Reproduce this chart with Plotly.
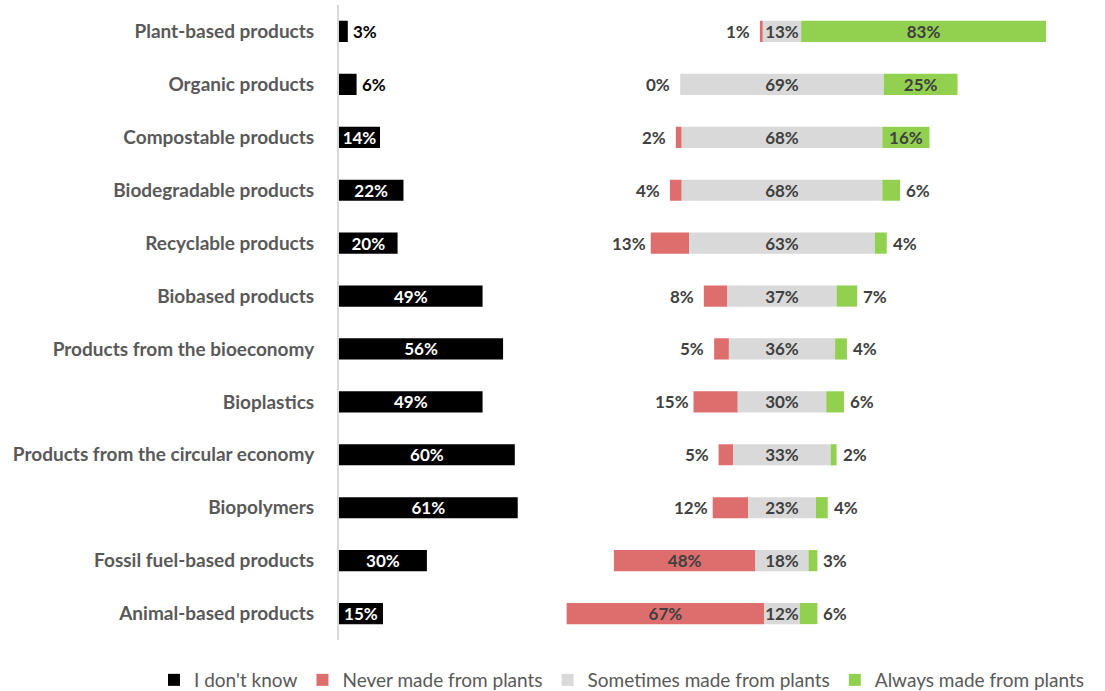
import plotly.graph_objects as go

# Survey items, top to bottom
categories = [
    "Plant-based products",
    "Organic products",
    "Compostable products",
    "Biodegradable products",
    "Recyclable products",
    "Biobased products",
    "Products from the bioeconomy",
    "Bioplastics",
    "Products from the circular economy",
    "Biopolymers",
    "Fossil fuel-based products",
    "Animal-based products",
]

# Shares of respondents (%)
dont_know = [3, 6, 14, 22, 20, 49, 56, 49, 60, 61, 30, 15]
never = [1, 0, 2, 4, 13, 8, 5, 15, 5, 12, 48, 67]
sometimes = [13, 69, 68, 68, 63, 37, 36, 30, 33, 23, 18, 12]
always = [83, 25, 16, 6, 4, 7, 4, 6, 2, 4, 3, 6]

series_names = ["I don't know", "Never made from plants",
                "Sometimes made from plants", "Always made from plants"]

C_BLACK = "#000000"
C_RED = "#DE6E6E"
C_GREY = "#D9D9D9"
C_GREEN = "#92D050"
C_TEXT = "#404040"
C_CAT = "#595959"
FONT = "Lato"

W, H = 1105, 691
M_T, M_B = 5, 51
AXIS_PX = 339          # horizontal position of the category axis line
SPLIT_PX = 553.5       # where the diverging panel begins
CENTER_PX = 782        # middle of the "Sometimes" segment

# Horizontal scales (pixels per percentage point) for the two panels
left_ppp = 2.93
right_ppp = 2.95

left_domain = [AXIS_PX / W, SPLIT_PX / W]
right_domain = [SPLIT_PX / W, 1]
left_range = [0, (SPLIT_PX - AXIS_PX) / left_ppp]
right_range = [-(CENTER_PX - SPLIT_PX) / right_ppp, (W - CENTER_PX) / right_ppp]

BAR_W = 0.4
label_font = dict(family=FONT, size=17, color=C_TEXT, weight="bold")

fig = go.Figure()

# Left panel: "I don't know"
dk_inside = [v >= 10 for v in dont_know]
fig.add_trace(go.Bar(
    y=categories, x=dont_know, orientation="h", width=BAR_W,
    marker=dict(color=C_BLACK, line=dict(width=0)),
    name=series_names[0], xaxis="x", yaxis="y",
    text=[f"{v}%" if ins else "" for v, ins in zip(dont_know, dk_inside)],
    textposition="inside", insidetextanchor="middle", textangle=0,
    constraintext="none",
    insidetextfont=dict(family=FONT, size=17, color="white", weight="bold"),
    hoverinfo="skip",
))

# Right panel: diverging bars centred on the middle of "Sometimes"
never_inside = [v >= 30 for v in never]
fig.add_trace(go.Bar(
    y=categories, x=[-v for v in never], base=[-s / 2 for s in sometimes],
    orientation="h", width=BAR_W,
    marker=dict(color=C_RED, line=dict(width=0)),
    name=series_names[1], xaxis="x2", yaxis="y",
    text=[f"{v}%" if ins else "" for v, ins in zip(never, never_inside)],
    textposition="inside", insidetextanchor="middle", textangle=0,
    constraintext="none", insidetextfont=label_font,
    hoverinfo="skip",
))
fig.add_trace(go.Bar(
    y=categories, x=sometimes, base=[-s / 2 for s in sometimes],
    orientation="h", width=BAR_W,
    marker=dict(color=C_GREY, line=dict(width=0)),
    name=series_names[2], xaxis="x2", yaxis="y",
    text=[f"{v}%" for v in sometimes],
    textposition="inside", insidetextanchor="middle", textangle=0,
    constraintext="none", insidetextfont=label_font,
    hoverinfo="skip",
))
always_inside = [v >= 10 for v in always]
fig.add_trace(go.Bar(
    y=categories, x=always, base=[s / 2 for s in sometimes],
    orientation="h", width=BAR_W,
    marker=dict(color=C_GREEN, line=dict(width=0)),
    name=series_names[3], xaxis="x2", yaxis="y",
    text=[f"{v}%" if ins else "" for v, ins in zip(always, always_inside)],
    textposition="inside", insidetextanchor="middle", textangle=0,
    constraintext="none", insidetextfont=label_font,
    hoverinfo="skip",
))

# Labels placed outside the short bars
annotations = []
for cat, v, ins in zip(categories, dont_know, dk_inside):
    if not ins:
        annotations.append(dict(x=v, y=cat, xref="x", yref="y", text=f"{v}%",
                                showarrow=False, xanchor="center", xshift=17,
                                font=dict(family=FONT, size=17, color="#000000",
                                          weight="bold")))
for cat, n, s, ins in zip(categories, never, sometimes, never_inside):
    if not ins:
        annotations.append(dict(x=-(s / 2 + n), y=cat, xref="x2", yref="y",
                                text=f"{n}%", showarrow=False, xanchor="center",
                                xshift=-22, font=label_font))
for cat, a, s, ins in zip(categories, always, sometimes, always_inside):
    if not ins:
        annotations.append(dict(x=s / 2 + a, y=cat, xref="x2", yref="y",
                                text=f"{a}%", showarrow=False, xanchor="center",
                                xshift=18, font=label_font))

fig.update_layout(
    width=W, height=H,
    margin=dict(l=0, r=0, t=M_T, b=M_B),
    paper_bgcolor="white", plot_bgcolor="white",
    barmode="overlay",
    font=dict(family=FONT, color=C_CAT),
    xaxis=dict(domain=left_domain, range=left_range, visible=False,
               fixedrange=True),
    xaxis2=dict(domain=right_domain, range=right_range, visible=False,
                anchor="y", fixedrange=True),
    yaxis=dict(
        categoryorder="array", categoryarray=categories,
        range=[len(categories) - 0.5, -0.5],
        showline=True, linecolor="#D9D9D9", linewidth=2,
        showgrid=False, zeroline=False, ticks="",
        ticklabelstandoff=19, automargin=False,
        tickfont=dict(family=FONT, size=19, color=C_CAT, weight="bold"),
        anchor="x",
    ),
    legend=dict(
        orientation="h", xref="paper", yref="container",
        x=154 / W, y=1 - 680 / H,
        xanchor="left", yanchor="middle",
        font=dict(family=FONT, size=19, color=C_CAT),
        itemclick=False, itemdoubleclick=False,
    ),
    annotations=annotations,
)

fig.write_html("out.html")
